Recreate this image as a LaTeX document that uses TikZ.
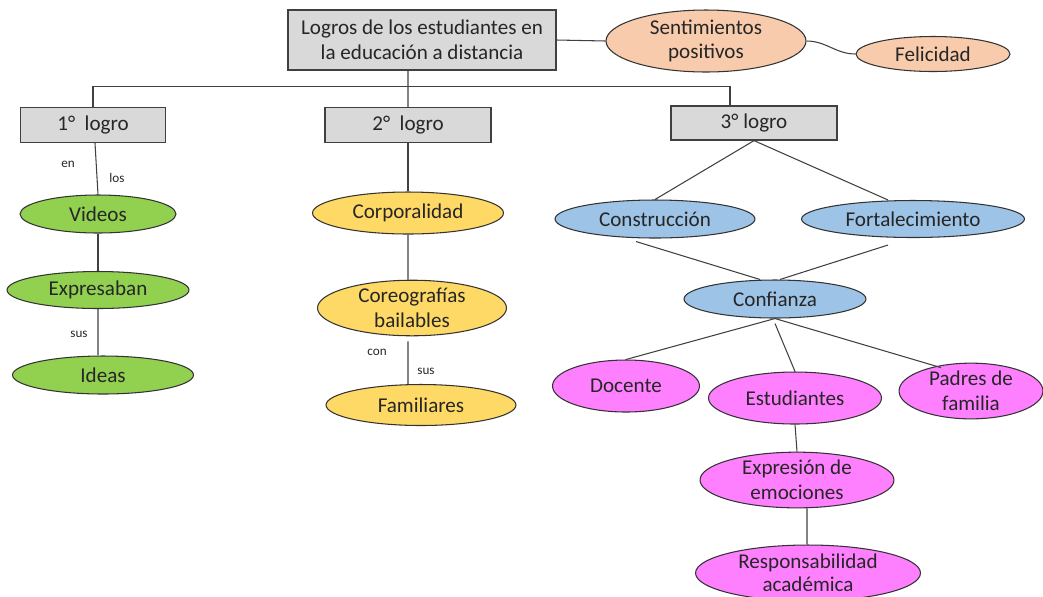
\documentclass[tikz,border=0pt]{standalone}
\usepackage{fontspec}
\setmainfont{Carlito}
\usepackage{tikz}
\usetikzlibrary{shapes.geometric,calc,positioning}
\definecolor{boxgray}{HTML}{D9D9D9}
\definecolor{mypeach}{HTML}{F8CBAD}
\definecolor{mygreen}{HTML}{92D050}
\definecolor{myyellow}{HTML}{FFD966}
\definecolor{myblue}{HTML}{9DC3E6}
\definecolor{mypink}{HTML}{FF80FF}
\definecolor{linegray}{HTML}{404040}
\tikzstyle{caja} = [draw=linegray,fill=boxgray,line width=0.7pt,inner sep=0pt,align=center]
\tikzstyle{elip} = [ellipse,draw=black!80,line width=0.6pt,inner sep=0pt,align=center]
\tikzstyle{lin} = [draw=linegray,line width=0.6pt]
\tikzstyle{chico} = [font=\fontsize{7.5}{8}\selectfont,inner sep=0pt]

\begin{document}
\begin{tikzpicture}[x=0.02cm,y=-0.02cm,font=\fontsize{12}{14}\selectfont,text=black!85]
    \useasboundingbox (0,0) rectangle (1043,596);

    % recuadros
    \node[caja,minimum width=5.36cm,minimum height=1.2cm] (main) at (422,40)
        {Logros de los estudiantes en\\la educación a distancia};
    \node[caja,minimum width=2.9cm,minimum height=0.7cm] (logro1) at (93,125) {1°\ \ logro};
    \node[caja,minimum width=3.32cm,minimum height=0.7cm] (logro2) at (408,125) {2°\ \ logro};
    \node[caja,minimum width=3.32cm,minimum height=0.68cm] (logro3) at (754,123) {3° logro};

    % sentimientos
    \node[elip,fill=mypeach,minimum width=4cm,minimum height=1.24cm] (sent) at (706,41)
        {Sentimientos\\positivos};
    \node[elip,fill=mypeach,minimum width=3.08cm,minimum height=0.7cm] (feli) at (933,54) {Felicidad};

    % 1er logro
    \node[elip,fill=mygreen,minimum width=3.12cm,minimum height=0.76cm] (videos) at (98,214) {Videos};
    \node[elip,fill=mygreen,minimum width=3.64cm,minimum height=0.74cm] (expres) at (98,290) {Expresaban};
    \node[elip,fill=mygreen,minimum width=3.62cm,minimum height=0.76cm] (ideas) at (103,375) {Ideas};

    % 2do logro
    \node[elip,fill=myyellow,minimum width=3.82cm,minimum height=0.84cm] (corpo) at (408,213) {Corporalidad};
    \node[elip,fill=myyellow,minimum width=3.78cm,minimum height=1.1cm] (coreo) at (412,308)
        {Coreografías\\bailables};
    \node[elip,fill=myyellow,minimum width=3.8cm,minimum height=0.82cm] (famil) at (421,405) {Familiares};

    % 3er logro
    \node[elip,fill=myblue,minimum width=4cm,minimum height=0.76cm] (constr) at (655,219) {Construcción};
    \node[elip,fill=myblue,minimum width=4.46cm,minimum height=0.74cm] (fort) at (913,219) {Fortalecimiento};
    \node[elip,fill=myblue,minimum width=3.64cm,minimum height=0.76cm] (conf) at (775,299) {Confianza};
    \node[elip,fill=mypink,minimum width=2.94cm,minimum height=1.04cm] (doc) at (626,386) {Docente};
    \node[elip,fill=mypink,minimum width=3.46cm,minimum height=1.04cm] (estu) at (795,398) {Estudiantes};
    \node[elip,fill=mypink,minimum width=2.88cm,minimum height=1.1cm] (padres) at (971,391)
        {Padres de\\familia};
    \node[elip,fill=mypink,minimum width=3.88cm,minimum height=1.1cm] (emoc) at (797,480)
        {Expresión de\\emociones};
    \node[elip,fill=mypink,minimum width=4.5cm,minimum height=1.12cm,
          font=\fontsize{12}{13}\selectfont] (resp) at (808,573)
        {Responsabilidad\\académica};

    % palabras de enlace
    \node[chico] (en) at (68,164) {en};
    \node[chico] (los) at (117,178) {los};
    \node[chico] (sus1) at (79,334) {sus};
    \node[chico] (con) at (377,352) {con};
    \node[chico] (sus2) at (426,371) {sus};

    % conexiones
    \draw[lin] (main.east) -- (sent.west);
    \draw[lin] (sent.east) to[out=0,in=180] (feli.west);
    \draw[lin] (logro1.north) -- ++(0,-20) -| ([xshift=-0.48cm]logro3.north);
    \draw[lin] ([xshift=-0.28cm]main.south) -- (logro2.north);
    \draw[lin] ([xshift=0.04cm]logro1.south) -- (videos.north);
    \draw[lin] (videos.south) -- (expres.north);
    \draw[lin] ([xshift=-0.1cm]ideas.north) -- ([xshift=0.0cm]expres.south);
    \draw[lin] (logro2.south) -- (corpo.north);
    \draw[lin] (corpo.south) -- ([xshift=-0.08cm]coreo.north);
    \draw[lin] ([shift={(-0.08cm,-0.1cm)}]coreo.south) -- ([xshift=-0.26cm]famil.north);
    \draw[lin] (logro3.south) -- (constr.north);
    \draw[lin] (logro3.south) -- ([xshift=-0.5cm]fort.north);
    \draw[lin] ([shift={(-0.38cm,-0.06cm)}]constr.south) -- ([xshift=-0.3cm]conf.north);
    \draw[lin] ([shift={(-0.5cm,-0.14cm)}]fort.south) -- ([xshift=0.1cm]conf.north);
    \draw[lin] (conf.south) -- (doc.north);
    \draw[lin] ([yshift=-0.1cm]conf.south) -- (estu.north);
    \draw[lin] (conf.south) -- ([xshift=-0.6cm,yshift=-0.1cm]padres.north);
    \draw[lin] (estu.south) -- (emoc.north);
    \draw[lin] ([xshift=0.2cm]emoc.south) -- ([xshift=-0.02cm]resp.north);
\end{tikzpicture}
\end{document}
